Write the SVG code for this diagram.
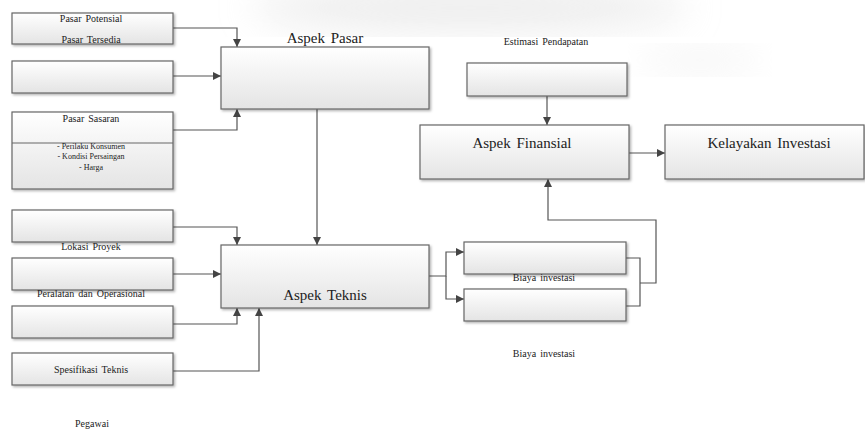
<svg xmlns="http://www.w3.org/2000/svg" width="865" height="430" viewBox="0 0 865 430">
<defs>
<linearGradient id="g" x1="0" y1="0" x2="0" y2="1"><stop offset="0" stop-color="#ffffff"/><stop offset="1" stop-color="#e4e4e4"/></linearGradient>
<filter id="sh" x="-5%" y="-5%" width="115%" height="130%"><feDropShadow dx="1.5" dy="1.5" stdDeviation="0.8" flood-color="#000" flood-opacity="0.3"/></filter>
<filter id="blur"><feGaussianBlur stdDeviation="18"/></filter>
<marker id="a" viewBox="0 0 10 10" refX="10" refY="5" markerWidth="9" markerHeight="8" markerUnits="userSpaceOnUse" orient="auto"><path d="M0,0 L10,5 L0,10 z" fill="#444"/></marker>
</defs>
<style>
.b{fill:url(#g);stroke:#666;stroke-width:1.2;filter:url(#sh)}
.c{fill:none;stroke:#555;stroke-width:1.2}
.t{font-family:"Liberation Serif","Times New Roman",serif;fill:#222;text-anchor:middle;dominant-baseline:central}
.s{font-size:10px;word-spacing:1.5px}
.xs{font-size:8px}
.l{font-size:15px;word-spacing:2px}
</style>
<rect width="865" height="430" fill="#fff"/>
<ellipse cx="470" cy="8" rx="220" ry="24" fill="#dcdcdc" opacity="0.5" filter="url(#blur)"/>
<ellipse cx="700" cy="60" rx="60" ry="14" fill="#ececec" opacity="0.5" filter="url(#blur)"/>
<g id="connectors">
<path class="c" d="M173,28 H237 V47" marker-end="url(#a)"/>
<path class="c" d="M173,76 H221" marker-end="url(#a)"/>
<path class="c" d="M173,130 H237 V109" marker-end="url(#a)"/>
<path class="c" d="M317,109 V245" marker-end="url(#a)"/>
<path class="c" d="M173,227 H237 V245" marker-end="url(#a)"/>
<path class="c" d="M173,274 H221" marker-end="url(#a)"/>
<path class="c" d="M173,324 H237 V308" marker-end="url(#a)"/>
<path class="c" d="M173,371 H259 V308" marker-end="url(#a)"/>
<path class="c" d="M429,276 H446 V252 H464" marker-end="url(#a)"/>
<path class="c" d="M446,276 V299 H464" marker-end="url(#a)"/>
<path class="c" d="M547,96 V125" marker-end="url(#a)"/>
<path class="c" d="M629,153 H665" marker-end="url(#a)"/>
<path class="c" d="M626,258 H640 V306 H626"/>
<path class="c" d="M640,283 H656 V220 H548 V179" marker-end="url(#a)"/>
</g>
<g id="pasar-potensial"><rect class="b" x="12" y="13" width="161" height="31"/><text class="t s" x="91" y="18">Pasar Potensial</text><text class="t s" x="91" y="39">Pasar Tersedia</text></g>
<g id="box2"><rect class="b" x="12" y="61" width="161" height="32"/></g>
<g id="pasar-sasaran"><rect class="b" x="12" y="112" width="161" height="77"/><line x1="12" y1="143" x2="173" y2="143" stroke="#666" stroke-width="1"/><text class="t s" x="91" y="118">Pasar Sasaran</text><text class="t xs" x="91" y="146">- Perilaku Konsumen</text><text class="t xs" x="91" y="156">- Kondisi Persaingan</text><text class="t xs" x="91" y="167">- Harga</text></g>
<g id="aspek-pasar"><rect class="b" x="221" y="47" width="208" height="62"/><text class="t l" x="325" y="38">Aspek Pasar</text></g>
<g id="lokasi"><rect class="b" x="12" y="210" width="161" height="32"/><text class="t s" x="91" y="246">Lokasi Proyek</text></g>
<g id="peralatan"><rect class="b" x="12" y="258" width="161" height="32"/><text class="t s" x="91" y="293">Peralatan dan Operasional</text></g>
<g id="box6"><rect class="b" x="12" y="306" width="161" height="32"/></g>
<g id="spesifikasi"><rect class="b" x="12" y="353" width="161" height="32"/><text class="t s" x="91" y="369">Spesifikasi Teknis</text></g>
<g id="pegawai"><text class="t s" x="92" y="423">Pegawai</text></g>
<g id="aspek-teknis"><rect class="b" x="221" y="245" width="208" height="63"/><text class="t l" x="325" y="295">Aspek Teknis</text></g>
<g id="estimasi"><text class="t s" x="546" y="41">Estimasi Pendapatan</text><rect class="b" x="467" y="63" width="160" height="33"/></g>
<g id="aspek-finansial"><rect class="b" x="420" y="125" width="209" height="54"/><text class="t l" x="522" y="143">Aspek Finansial</text></g>
<g id="kelayakan"><rect class="b" x="665" y="125" width="199" height="54"/><text class="t l" x="769" y="143">Kelayakan Investasi</text></g>
<g id="biaya1"><rect class="b" x="464" y="242" width="162" height="32"/><text class="t s" x="544" y="277">Biaya investasi</text></g>
<g id="biaya2"><rect class="b" x="464" y="289" width="162" height="32"/><text class="t s" x="544" y="353">Biaya investasi</text></g>
</svg>
